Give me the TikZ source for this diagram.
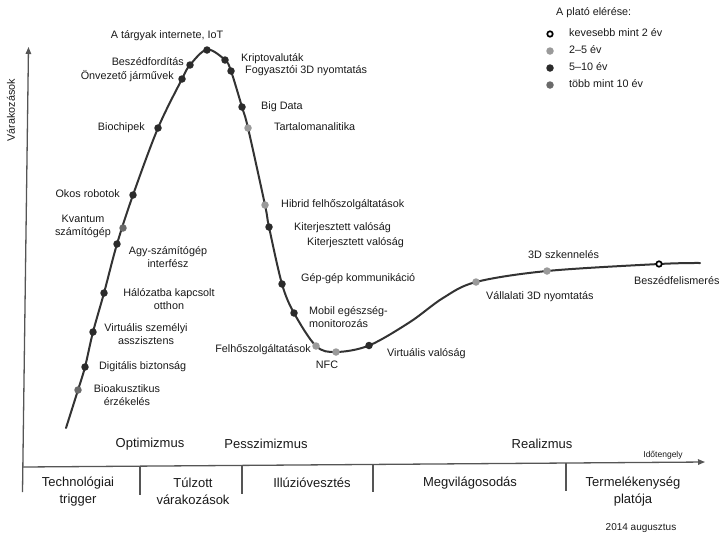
\documentclass[tikz,border=0pt]{standalone}
\usepackage{fontspec}
\setmainfont{Liberation Sans}
\usetikzlibrary{arrows.meta}
\definecolor{dotdark}{HTML}{2B2B2B}
\definecolor{dotlight}{HTML}{9A9A9A}
\definecolor{dotmid}{HTML}{6A6A6A}
\definecolor{curvecol}{HTML}{333333}
\definecolor{axisgray}{HTML}{555555}
\begin{document}
\begin{tikzpicture}[x=1pt,y=-1pt,
  lbl/.style={font=\fontsize{10.8}{13}\selectfont, inner sep=0pt, align=center, text=black!90},
  phase/.style={font=\fontsize{13}{16.5}\selectfont, inner sep=0pt, align=center, text=black!90},
  dk/.style={circle, fill=dotdark, inner sep=0pt, minimum size=7.5pt},
  lt/.style={circle, fill=dotlight, inner sep=0pt, minimum size=7.5pt},
  md/.style={circle, fill=dotmid, inner sep=0pt, minimum size=7.5pt},
  op/.style={circle, draw=black, line width=1.7pt, fill=white, inner sep=0pt, minimum size=5.5pt},
  axisline/.style={draw=axisgray, line width=1.3pt},
  arr/.style={-{Triangle[length=7pt,width=5.5pt]}}
]
\useasboundingbox (0,0) rectangle (727,539);

% axes
\coordinate (vb) at (22.5,492);
\coordinate (vt) at (28.5,47);
\coordinate (hl) at (22.5,467);
\coordinate (hr) at (705,462);
\draw[axisline, arr] (vb) -- (vt);
\draw[axisline, arr] (hl) -- (hr);
\foreach \x/\ya/\yb [count=\i] in {140/466.1/495, 242/465.4/494, 373/464.4/492, 566/463/491}{
  \coordinate (st\i) at (\x,\ya);
  \coordinate (sb\i) at (\x,\yb);
  \draw[axisline] (st\i) -- (sb\i);
}
\node[lbl, rotate=90] (ylab) at (11,110) {Várakozások};

% hype curve
\draw[curvecol, line width=2pt, line cap=round] plot[smooth, tension=0.55] coordinates {
 (66,428) (78,390) (85,367) (93,332) (104,293) (117,244) (133,195) (158,128)
 (182,79) (190,65) (207,49.5) (225,60) (231,71) (242,107) (248,128) (265,205)
 (269,227) (282,284) (294,313) (316,346) (336,352) (369,345.5) (410,322) (443,298)
 (476,282) (547,271) (659,264) (700,263)};

% dots
\node[md] (d1) at (78,390) {};
\node[dk] (d2) at (85,367) {};
\node[dk] (d3) at (93,332) {};
\node[dk] (d4) at (104,293) {};
\node[dk] (d5) at (117,244) {};
\node[md] (d6) at (123,228) {};
\node[dk] (d7) at (133,195) {};
\node[dk] (d8) at (158,128) {};
\node[dk] (d9) at (182,79) {};
\node[dk] (d10) at (190,65) {};
\node[dk] (d11) at (207,50) {};
\node[dk] (d12) at (225,60) {};
\node[dk] (d13) at (231,71) {};
\node[dk] (d14) at (242,107) {};
\node[lt] (d15) at (248,128) {};
\node[lt] (d16) at (265,205) {};
\node[dk] (d17) at (269,227) {};
\node[dk] (d18) at (282,284) {};
\node[dk] (d19) at (294,313) {};
\node[lt] (d20) at (316,346) {};
\node[lt] (d21) at (336,352) {};
\node[dk] (d22) at (369,345.5) {};
\node[lt] (d23) at (476,282) {};
\node[lt] (d24) at (547,271) {};
\node[op] (d25) at (659,264) {};

% labels on the curve
\node[lbl] (l11) at (167,36) {A tárgyak internete, IoT};
\node[lbl, anchor=mid east] (l10) at (184,63) {Beszédfordítás};
\node[lbl, anchor=mid east] (l9) at (174,77) {Önvezető járművek};
\node[lbl, anchor=mid east] (l8) at (145,128) {Biochipek};
\node[lbl, anchor=mid east] (l7) at (120,195) {Okos robotok};
\node[lbl] (l6) at (83,226) {Kvantum\\számítógép};
\node[lbl] (l5) at (168,257) {Agy-számítógép\\interfész};
\node[lbl] (l4) at (169,299) {Hálózatba kapcsolt\\otthon};
\node[lbl] (l3) at (146,334.5) {Virtuális személyi\\asszisztens};
\node[lbl, anchor=mid west] (l2) at (99,367) {Digitális biztonság};
\node[lbl] (l1) at (127,395.5) {Bioakusztikus\\érzékelés};
\node[lbl, anchor=mid west] (l12) at (241,59) {Kriptovaluták};
\node[lbl, anchor=mid west] (l13) at (245,71) {Fogyasztói 3D nyomtatás};
\node[lbl, anchor=mid west] (l14) at (261,107) {Big Data};
\node[lbl, anchor=mid west] (l15) at (274,128) {Tartalomanalitika};
\node[lbl, anchor=mid west] (l16) at (281,205) {Hibrid felhőszolgáltatások};
\node[lbl, anchor=mid west] (l17) at (294,228) {Kiterjesztett valóság};
\node[lbl, anchor=mid west] (l17b) at (307,243) {Kiterjesztett valóság};
\node[lbl, anchor=mid west] (l18) at (301,279) {Gép-gép kommunikáció};
\node[lbl, anchor=west, align=left] (l19) at (309,317) {Mobil egészség-\\monitorozás};
\node[lbl, anchor=mid east] (l20) at (311,350) {Felhőszolgáltatások};
\node[lbl] (l21) at (327,365) {NFC};
\node[lbl, anchor=mid west] (l22) at (387,354) {Virtuális valóság};
\node[lbl, anchor=mid west] (l23) at (486,297) {Vállalati 3D nyomtatás};
\node[lbl, anchor=mid west] (l24) at (528,256) {3D szkennelés};
\node[lbl, anchor=mid west] (l25) at (634,282) {Beszédfelismerés};

% legend
\node[lbl, anchor=mid west] (lgt) at (556,13) {A plató elérése:};
\node[op] (g1) at (550,34) {};
\node[lt] (g2) at (550,51) {};
\node[dk] (g3) at (550,68) {};
\node[md] (g4) at (550,85) {};
\node[lbl, anchor=mid west] (gt1) at (569,34) {kevesebb mint 2 év};
\node[lbl, anchor=mid west] (gt2) at (569,51) {2–5 év};
\node[lbl, anchor=mid west] (gt3) at (569,68) {5–10 év};
\node[lbl, anchor=mid west] (gt4) at (569,85) {több mint 10 év};

% phase labels
\node[phase] (p1) at (150,444) {Optimizmus};
\node[phase] (p2) at (266,444) {Pesszimizmus};
\node[phase] (p3) at (542,444) {Realizmus};
\node[font=\fontsize{8.5}{10}\selectfont, inner sep=0pt, text=black!90] (tl) at (663,455) {Időtengely};

\node[phase] (s1) at (78,491.5) {Technológiai\\trigger};
\node[phase] (s2) at (193,491.5) {Túlzott\\várakozások};
\node[phase] (s3) at (312,483) {Illúzióvesztés};
\node[phase] (s4) at (470,483) {Megvilágosodás};
\node[phase] (s5) at (633,491.5) {Termelékenység\\platója};
\node[font=\fontsize{10}{12}\selectfont, inner sep=0pt, text=black!90] (dt) at (641,528) {2014 augusztus};
\end{tikzpicture}
\end{document}
